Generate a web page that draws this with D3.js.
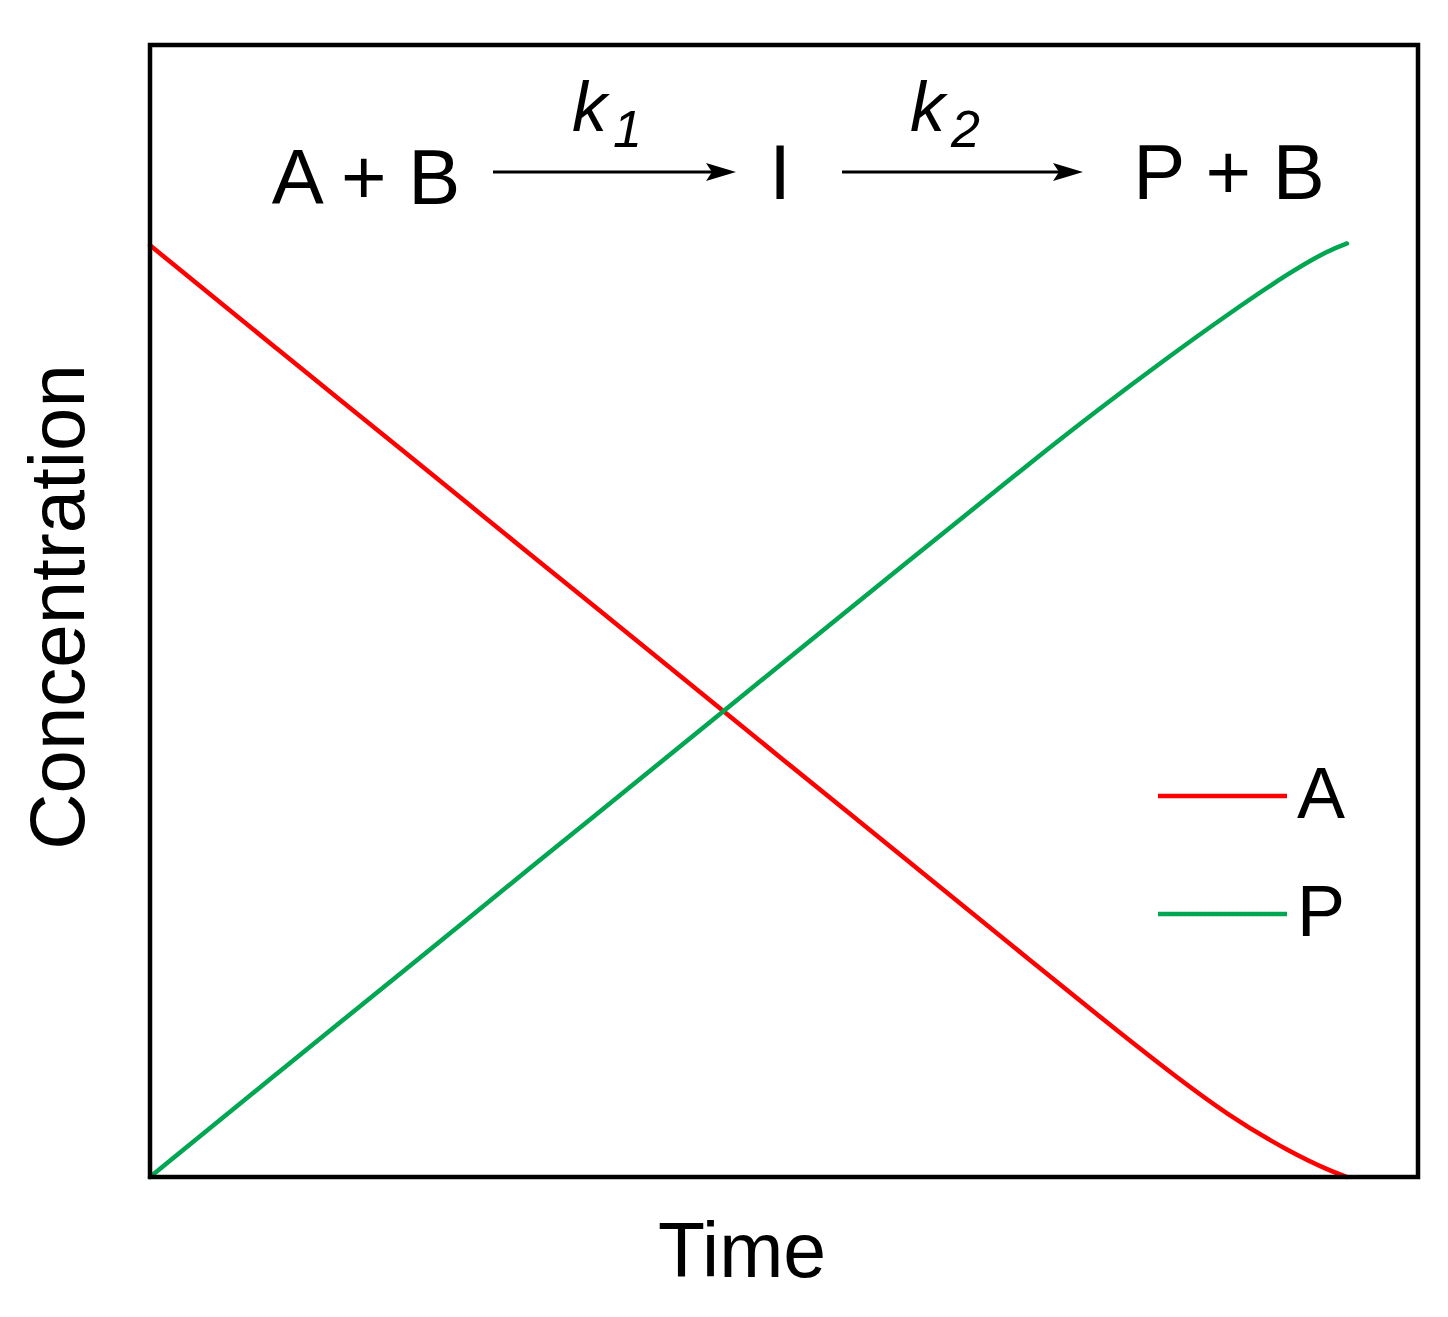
<!DOCTYPE html>
<html>
<head>
<meta charset="utf-8">
<script src="https://cdn.jsdelivr.net/npm/d3@7"></script>
<style>
  html, body { margin: 0; padding: 0; background: #fff; }
  svg { display: block; font-family: "Liberation Sans", Arial, sans-serif; }
</style>
</head>
<body>
<svg id="chart" width="1448" height="1317"></svg>
<script>
// Values (time in arbitrary units, concentration relative to [A]0)
const time = [0, 1, 2, 3, 4, 5, 6, 7, 7.5, 8, 8.5, 9, 9.3, 9.44];
const concA = [1.0, 0.889, 0.779, 0.668, 0.558, 0.447, 0.337, 0.226, 0.171, 0.117, 0.066, 0.026, 0.007, 0.0];
const concP = [0.0, 0.111, 0.221, 0.332, 0.442, 0.553, 0.663, 0.773, 0.826, 0.877, 0.926, 0.972, 0.995, 1.002];
const seriesNames = ["A", "P"];
const seriesColors = ["#ff0000", "#00a651"];

const svg = d3.select("#chart");

// Plot frame
const frame = { left: 150, right: 1418, top: 45, bottom: 1177 };

const x = d3.scaleLinear().domain([0, 10]).range([frame.left, frame.right]);
const y = d3.scaleLinear().domain([0, 1.215]).range([frame.bottom, frame.top]);

const line = d3.line()
  .x((d) => x(d[0]))
  .y((d) => y(d[1]))
  .curve(d3.curveBasis);

const series = [concA, concP].map((vals, i) => ({
  name: seriesNames[i],
  color: seriesColors[i],
  points: time.map((t, j) => [t, vals[j]])
}));

// Curves
svg.append("g")
  .selectAll("path")
  .data(series)
  .join("path")
  .attr("d", (d) => line(d.points))
  .attr("fill", "none")
  .attr("stroke", (d) => d.color)
  .attr("stroke-width", 4.5)
  .attr("stroke-linecap", "round");

// Frame on top of curves
svg.append("rect")
  .attr("x", frame.left)
  .attr("y", frame.top)
  .attr("width", frame.right - frame.left)
  .attr("height", frame.bottom - frame.top)
  .attr("fill", "none")
  .attr("stroke", "#000")
  .attr("stroke-width", 4.5);

// Legend
const legend = svg.append("g").selectAll("g")
  .data(series)
  .join("g")
  .attr("transform", (d, i) => `translate(0, ${796 + i * 118})`);

legend.append("line")
  .attr("x1", 1158).attr("x2", 1287)
  .attr("y1", 0).attr("y2", 0)
  .attr("stroke", (d) => d.color)
  .attr("stroke-width", 4.5);

legend.append("text")
  .attr("x", 1297)
  .attr("y", 22)
  .attr("font-size", 72)
  .attr("fill", "#000")
  .text((d) => d.name);

// Axis titles
svg.append("text")
  .attr("x", 742)
  .attr("y", 1277)
  .attr("text-anchor", "middle")
  .attr("font-size", 77)
  .text("Time");

svg.append("text")
  .attr("transform", "translate(84, 607) rotate(-90)")
  .attr("text-anchor", "middle")
  .attr("font-size", 78)
  .text("Concentration");

// Reaction scheme
const scheme = svg.append("g").attr("font-size", 78);

scheme.append("text").attr("x", 366).attr("y", 204).attr("text-anchor", "middle").text("A + B");
scheme.append("text").attr("x", 780).attr("y", 199).attr("text-anchor", "middle").text("I");
scheme.append("text").attr("x", 1229).attr("y", 199).attr("text-anchor", "middle").text("P + B");

function arrow(x1, x2, yy) {
  scheme.append("line")
    .attr("x1", x1).attr("x2", x2 - 20)
    .attr("y1", yy).attr("y2", yy)
    .attr("stroke", "#000")
    .attr("stroke-width", 3);
  scheme.append("path")
    .attr("d", `M${x2},${yy} L${x2 - 30},${yy - 9} L${x2 - 24},${yy} L${x2 - 30},${yy + 9} Z`)
    .attr("fill", "#000");
}
arrow(493, 736, 172);
arrow(842, 1083, 172);

function rate(cx, sub) {
  const t = scheme.append("text")
    .attr("x", cx)
    .attr("y", 131)
    .attr("font-size", 70)
    .attr("font-style", "italic");
  t.append("tspan").text("k");
  t.append("tspan")
    .attr("font-size", 52)
    .attr("dx", 6)
    .attr("dy", 16)
    .text(sub);
}
rate(572, "1");
rate(910, "2");
</script>
</body>
</html>
